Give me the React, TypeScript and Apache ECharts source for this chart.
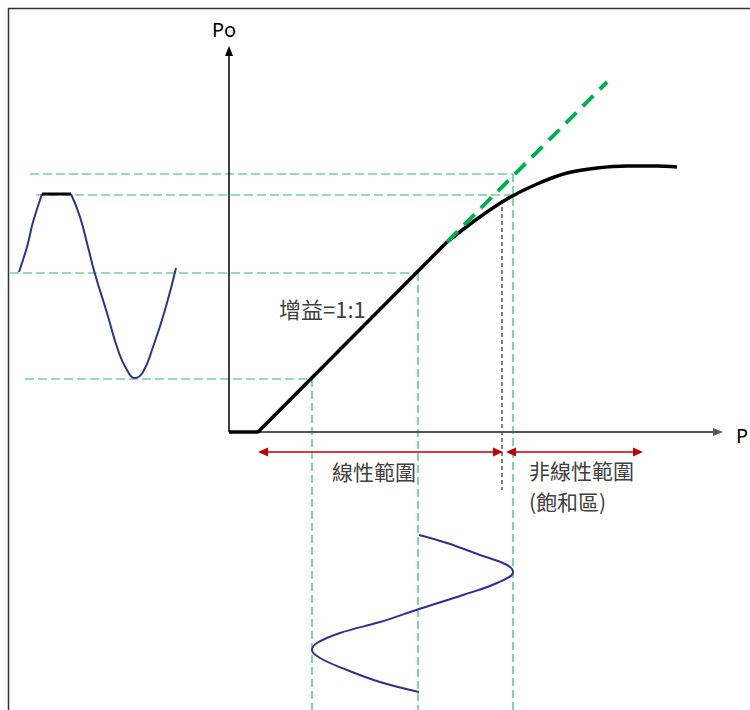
import React, { useEffect, useRef } from "react";
import * as echarts from "echarts";

// Units: 1 unit = 10 px, origin at the Pi/Po axes crossing.
const X_MIN = -22.9;
const X_MAX = 52.1;
const Y_MIN = -27.8;
const Y_MAX = 43.2;

// Amplifier transfer curve Po vs Pi
const transferLinear: number[][] = [[0, 0], [2.9, 0], [21.8, 19.0]];
const transferSaturation: number[][] = [
  [21.8, 19.0], [24.8, 21.3], [27.8, 23.3], [30.8, 24.8], [33.8, 25.9], [36.8, 26.4],
  [39.8, 26.6], [42.8, 26.6], [44.8, 26.5],
];
const idealExtension: number[][] = [[21.8, 19.0], [37.8, 35.0]];

// Output waveform (left, drawn along Po)
const outputWaveRise: number[][] = [[-21.0, 16.0], [-20.2, 18.5], [-19.6, 21.0], [-18.7, 23.8]];
const outputWaveClip: number[][] = [[-18.7, 23.8], [-15.8, 23.8]];
const outputWaveFall: number[][] = [
  [-15.8, 23.8], [-14.9, 21.5], [-14.1, 18.5], [-13.4, 15.8], [-12.2, 11.9], [-11.1, 8.2],
  [-10.2, 6.2], [-9.4, 5.4], [-8.6, 6.0], [-7.6, 8.5], [-6.4, 12.2], [-5.3, 16.4],
];

// Input waveform (bottom, drawn along Pi)
const inputWave: number[][] = [
  [19.0, -10.3], [21.8, -11.1], [25.1, -12.3], [27.8, -13.3], [28.4, -14.0], [26.8, -15.1],
  [23.4, -16.3], [19.0, -17.7], [15.1, -19.0], [11.1, -20.1], [8.8, -21.1], [8.3, -21.8],
  [9.1, -22.6], [11.8, -23.8], [15.1, -25.0], [19.0, -26.0],
];

// Guide lines
const hGuideLevels = [25.8, 23.7, 15.9, 5.3];
const hGuideStarts = [-19.9, -19.3, -21.9, -20.4];
const hGuideEnds = [28.4, 28.4, 18.9, 8.3];
const vGuidePositions = [8.3, 18.9, 28.4];
const vGuideTops = [5.3, 15.9, 25.8];
const boundaryX = 27.3;
const boundaryRange = [23.2, -5.8];

// Range arrows
const rangeArrowLevel = -2.0;
const rangeArrowSpans = [[3.4, 26.9], [28.2, 40.9]];

// Axes
const poAxisEnd = 38.1;
const piAxisEnd = 48.9;

const CJK = '"Noto Sans CJK TC", "Noto Sans", sans-serif';

export default function App() {
  const ref = useRef<HTMLDivElement>(null);
  useEffect(() => {
    if (!ref.current) return;
    const chart = echarts.init(ref.current, undefined, { renderer: "svg" });

    const green = "#00b050";
    const blue = "#2e3192";
    const lineBase = { type: "line", showSymbol: false, symbol: "none", silent: true, animation: false };

    const series: any[] = [];

    hGuideLevels.forEach((v, i) => {
      series.push({
        ...lineBase,
        data: [[hGuideStarts[i], v], [hGuideEnds[i], v]],
        lineStyle: { color: green, width: 1.2, type: [9, 4], opacity: 0.85 },
        z: 1,
      });
    });
    vGuidePositions.forEach((u, i) => {
      series.push({
        ...lineBase,
        data: [[u, vGuideTops[i]], [u, Y_MIN]],
        lineStyle: { color: green, width: 1.2, type: [8, 4], opacity: 0.85 },
        z: 1,
      });
    });
    series.push({
      ...lineBase,
      data: [[boundaryX, boundaryRange[0]], [boundaryX, boundaryRange[1]]],
      lineStyle: { color: "#000", width: 1, type: [4, 3] },
      z: 1,
    });

    // axes + arrows via markLine
    series.push({
      ...lineBase,
      data: [],
      markLine: {
        silent: true,
        animation: false,
        label: { show: false },
        symbol: ["none", "triangle"],
        symbolSize: [8, 10],
        data: [
          [{ coord: [0, 0], lineStyle: { color: "#000", width: 1.5, type: "solid" } }, { coord: [0, poAxisEnd] }],
          [{ coord: [0, 0], lineStyle: { color: "#555", width: 1.8, type: "solid" } }, { coord: [piAxisEnd, 0] }],
        ],
        itemStyle: { color: "#000" },
      },
      z: 2,
    });
    series.push({
      ...lineBase,
      data: [],
      markLine: {
        silent: true,
        animation: false,
        label: { show: false },
        symbol: ["triangle", "triangle"],
        symbolSize: [9, 10],
        lineStyle: { color: "#c00000", width: 1.5, type: "solid" },
        itemStyle: { color: "#c00000" },
        data: rangeArrowSpans.map((s) => [
          { coord: [s[0], rangeArrowLevel] },
          { coord: [s[1], rangeArrowLevel] },
        ]),
      },
      z: 2,
    });

    series.push({ ...lineBase, data: transferLinear, lineStyle: { color: "#000", width: 3.5 }, z: 5 });
    series.push({
      ...lineBase,
      data: transferSaturation,
      smooth: 0.3,
      lineStyle: { color: "#000", width: 3.5 },
      z: 5,
    });
    series.push({ ...lineBase, data: idealExtension, lineStyle: { color: green, width: 4, type: [15, 9] }, z: 6 });

    series.push({ ...lineBase, data: outputWaveRise, smooth: 0.3, lineStyle: { color: blue, width: 2 }, z: 4 });
    series.push({ ...lineBase, data: outputWaveClip, lineStyle: { color: "#000", width: 3 }, z: 4 });
    series.push({ ...lineBase, data: outputWaveFall, smooth: 0.5, lineStyle: { color: blue, width: 2 }, z: 4 });
    series.push({ ...lineBase, data: inputWave, smooth: 0.4, lineStyle: { color: blue, width: 2 }, z: 4 });

    const textStyle = (extra: any) => ({ fontFamily: CJK, fontSize: 21, fill: "#404040", ...extra });

    chart.setOption({
      animation: false,
      backgroundColor: "#fff",
      grid: { left: 0, right: 0, top: 0, bottom: 0, containLabel: false },
      xAxis: { type: "value", min: X_MIN, max: X_MAX, show: false },
      yAxis: { type: "value", min: Y_MIN, max: Y_MAX, show: false },
      series,
      graphic: [
        {
          type: "rect",
          shape: { x: 8.5, y: 8.5, width: 800, height: 800 },
          style: { fill: "none", stroke: "#333", lineWidth: 1.5 },
          silent: true,
          z: 0,
        },
        { type: "text", x: 224, y: 29, style: textStyle({ text: "Po", fontSize: 20, fill: "#000", fontFamily: '"Noto Sans", sans-serif', textAlign: "center", textVerticalAlign: "middle" }) },
        { type: "text", x: 736, y: 435, style: textStyle({ text: "P", fontSize: 20, fill: "#000", fontFamily: '"Noto Sans", sans-serif', textAlign: "left", textVerticalAlign: "middle" }) },
        { type: "text", x: 279, y: 308, style: textStyle({ text: "增益=1:1", fontSize: 22, textAlign: "left", textVerticalAlign: "middle" }) },
        { type: "text", x: 374, y: 471, style: textStyle({ text: "線性範圍", textAlign: "center", textVerticalAlign: "middle" }) },
        { type: "text", x: 529, y: 470, style: textStyle({ text: "非線性範圍", textAlign: "left", textVerticalAlign: "middle" }) },
        { type: "text", x: 529, y: 501, style: textStyle({ text: "(飽和區)", textAlign: "left", textVerticalAlign: "middle" }) },
      ],
    });
    return () => chart.dispose();
  }, []);

  return (
    <div style={{ position: "fixed", left: 0, top: 0, width: 750, height: 710, background: "#fff" }}>
      <div ref={ref} style={{ width: 750, height: 710 }} />
    </div>
  );
}
